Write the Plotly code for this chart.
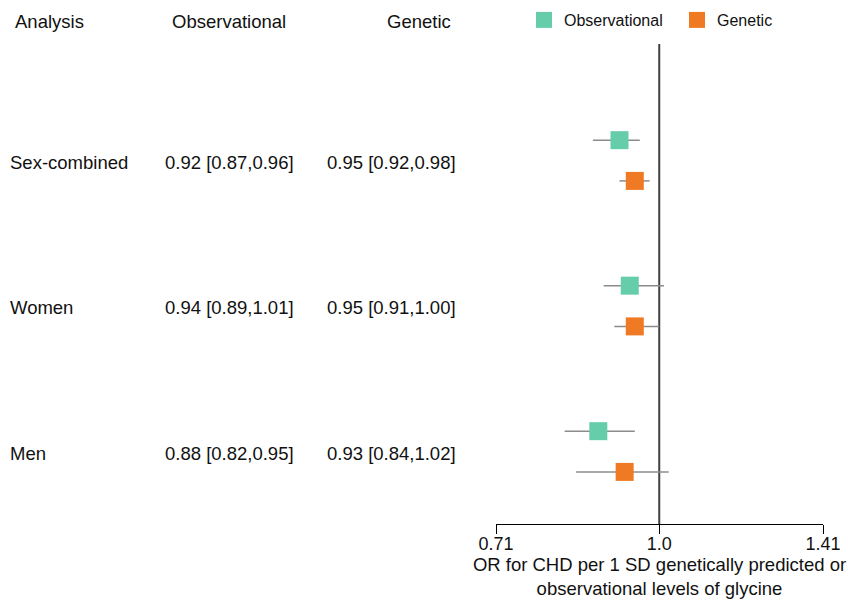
import math
import plotly.graph_objects as go

# Odds ratios (with 95% CI) for coronary heart disease per 1 SD of glycine
analyses = ["Sex-combined", "Women", "Men"]
obs_or = [0.92, 0.94, 0.88]
obs_lo = [0.87, 0.89, 0.82]
obs_hi = [0.96, 1.01, 0.95]
gen_or = [0.95, 0.95, 0.93]
gen_lo = [0.92, 0.91, 0.84]
gen_hi = [0.98, 1.00, 1.02]
tick_vals = [0.71, 1.0, 1.41]
tick_text = ["0.71", "1.0", "1.41"]

GREEN = "#66CDAA"
ORANGE = "#EF7A23"
BAR_GREY = "#8c8c8c"
FONT = "Liberation Sans, Arial, Helvetica, sans-serif"
TEXT = "#111111"

W, H = 848, 608
M_L, M_R, M_T, M_B = 496, 25, 44, 84
PW, PH = W - M_L - M_R, H - M_T - M_B


def px_x(px):
    return (px - M_L) / PW


def px_y(py):
    return (H - M_B - py) / PH


rows = list(range(len(analyses)))
OFF = 0.14  # vertical offset of each estimate within its row


def fmt(v, lo, hi):
    return f"{v:.2f} [{lo:.2f},{hi:.2f}]"


fig = go.Figure()

series = [
    ("Observational", obs_or, obs_lo, obs_hi, GREEN, -OFF),
    ("Genetic", gen_or, gen_lo, gen_hi, ORANGE, OFF),
]
for name, est, lo, hi, color, off in series:
    fig.add_trace(go.Scatter(
        x=est,
        y=[r + off for r in rows],
        mode="markers",
        name=name,
        marker=dict(symbol="square", size=18, color=color, line=dict(width=0)),
        error_x=dict(
            type="data", symmetric=False,
            array=[h - e for h, e in zip(hi, est)],
            arrayminus=[e - l for e, l in zip(est, lo)],
            color=BAR_GREY, thickness=1.5, width=0,
        ),
        hovertemplate=name + ": %{x:.2f}<extra></extra>",
    ))

# reference line at OR = 1
fig.add_shape(type="line", xref="x", yref="paper", x0=1.0, x1=1.0, y0=0, y1=1,
              line=dict(color="#404040", width=2), layer="below")

annotations = []


def note(text, px, y, yref="paper"):
    annotations.append(dict(
        text=text, x=px_x(px), xref="paper", xanchor="left",
        y=y, yref=yref, yanchor="middle", showarrow=False,
        font=dict(family=FONT, size=18.5, color=TEXT),
    ))


# column headers
note("Analysis", 13, px_y(21))
note("Observational", 170, px_y(21))
note("Genetic", 385, px_y(21))

# table rows
for r, name in zip(rows, analyses):
    note(name, 8, r + 0.01, yref="y")
    note(fmt(obs_or[r], obs_lo[r], obs_hi[r]), 163, r + 0.01, yref="y")
    note(fmt(gen_or[r], gen_lo[r], gen_hi[r]), 325, r + 0.01, yref="y")

fig.update_layout(
    width=W, height=H,
    margin=dict(l=M_L, r=M_R, t=M_T, b=M_B, pad=0, autoexpand=False),
    paper_bgcolor="white", plot_bgcolor="white",
    font=dict(family=FONT, size=18, color=TEXT),
    annotations=annotations,
    showlegend=True,
    legend=dict(
        orientation="h", x=px_x(524), xanchor="left", y=px_y(3), yanchor="top",
        font=dict(family=FONT, size=16, color=TEXT),
        bgcolor="rgba(0,0,0,0)", itemsizing="trace",
        entrywidth=108, entrywidthmode="pixels",
    ),
    xaxis=dict(
        type="log",
        range=[math.log10(tick_vals[0]), math.log10(tick_vals[-1])],
        tickvals=tick_vals, ticktext=tick_text,
        showline=True, linecolor="black", linewidth=1,
        ticks="outside", ticklen=9, tickwidth=1, tickcolor="black",
        ticklabelstandoff=-6,
        showgrid=False, zeroline=False, automargin=False,
        tickfont=dict(family=FONT, size=18, color=TEXT),
        title=dict(
            text="OR for CHD per 1 SD genetically predicted or<br>observational levels of glycine",
            font=dict(family=FONT, size=18.5, color=TEXT), standoff=3,
        ),
    ),
    yaxis=dict(
        range=[2.498, -0.801], visible=False, showgrid=False, zeroline=False,
    ),
)

fig.write_html("out.html")
